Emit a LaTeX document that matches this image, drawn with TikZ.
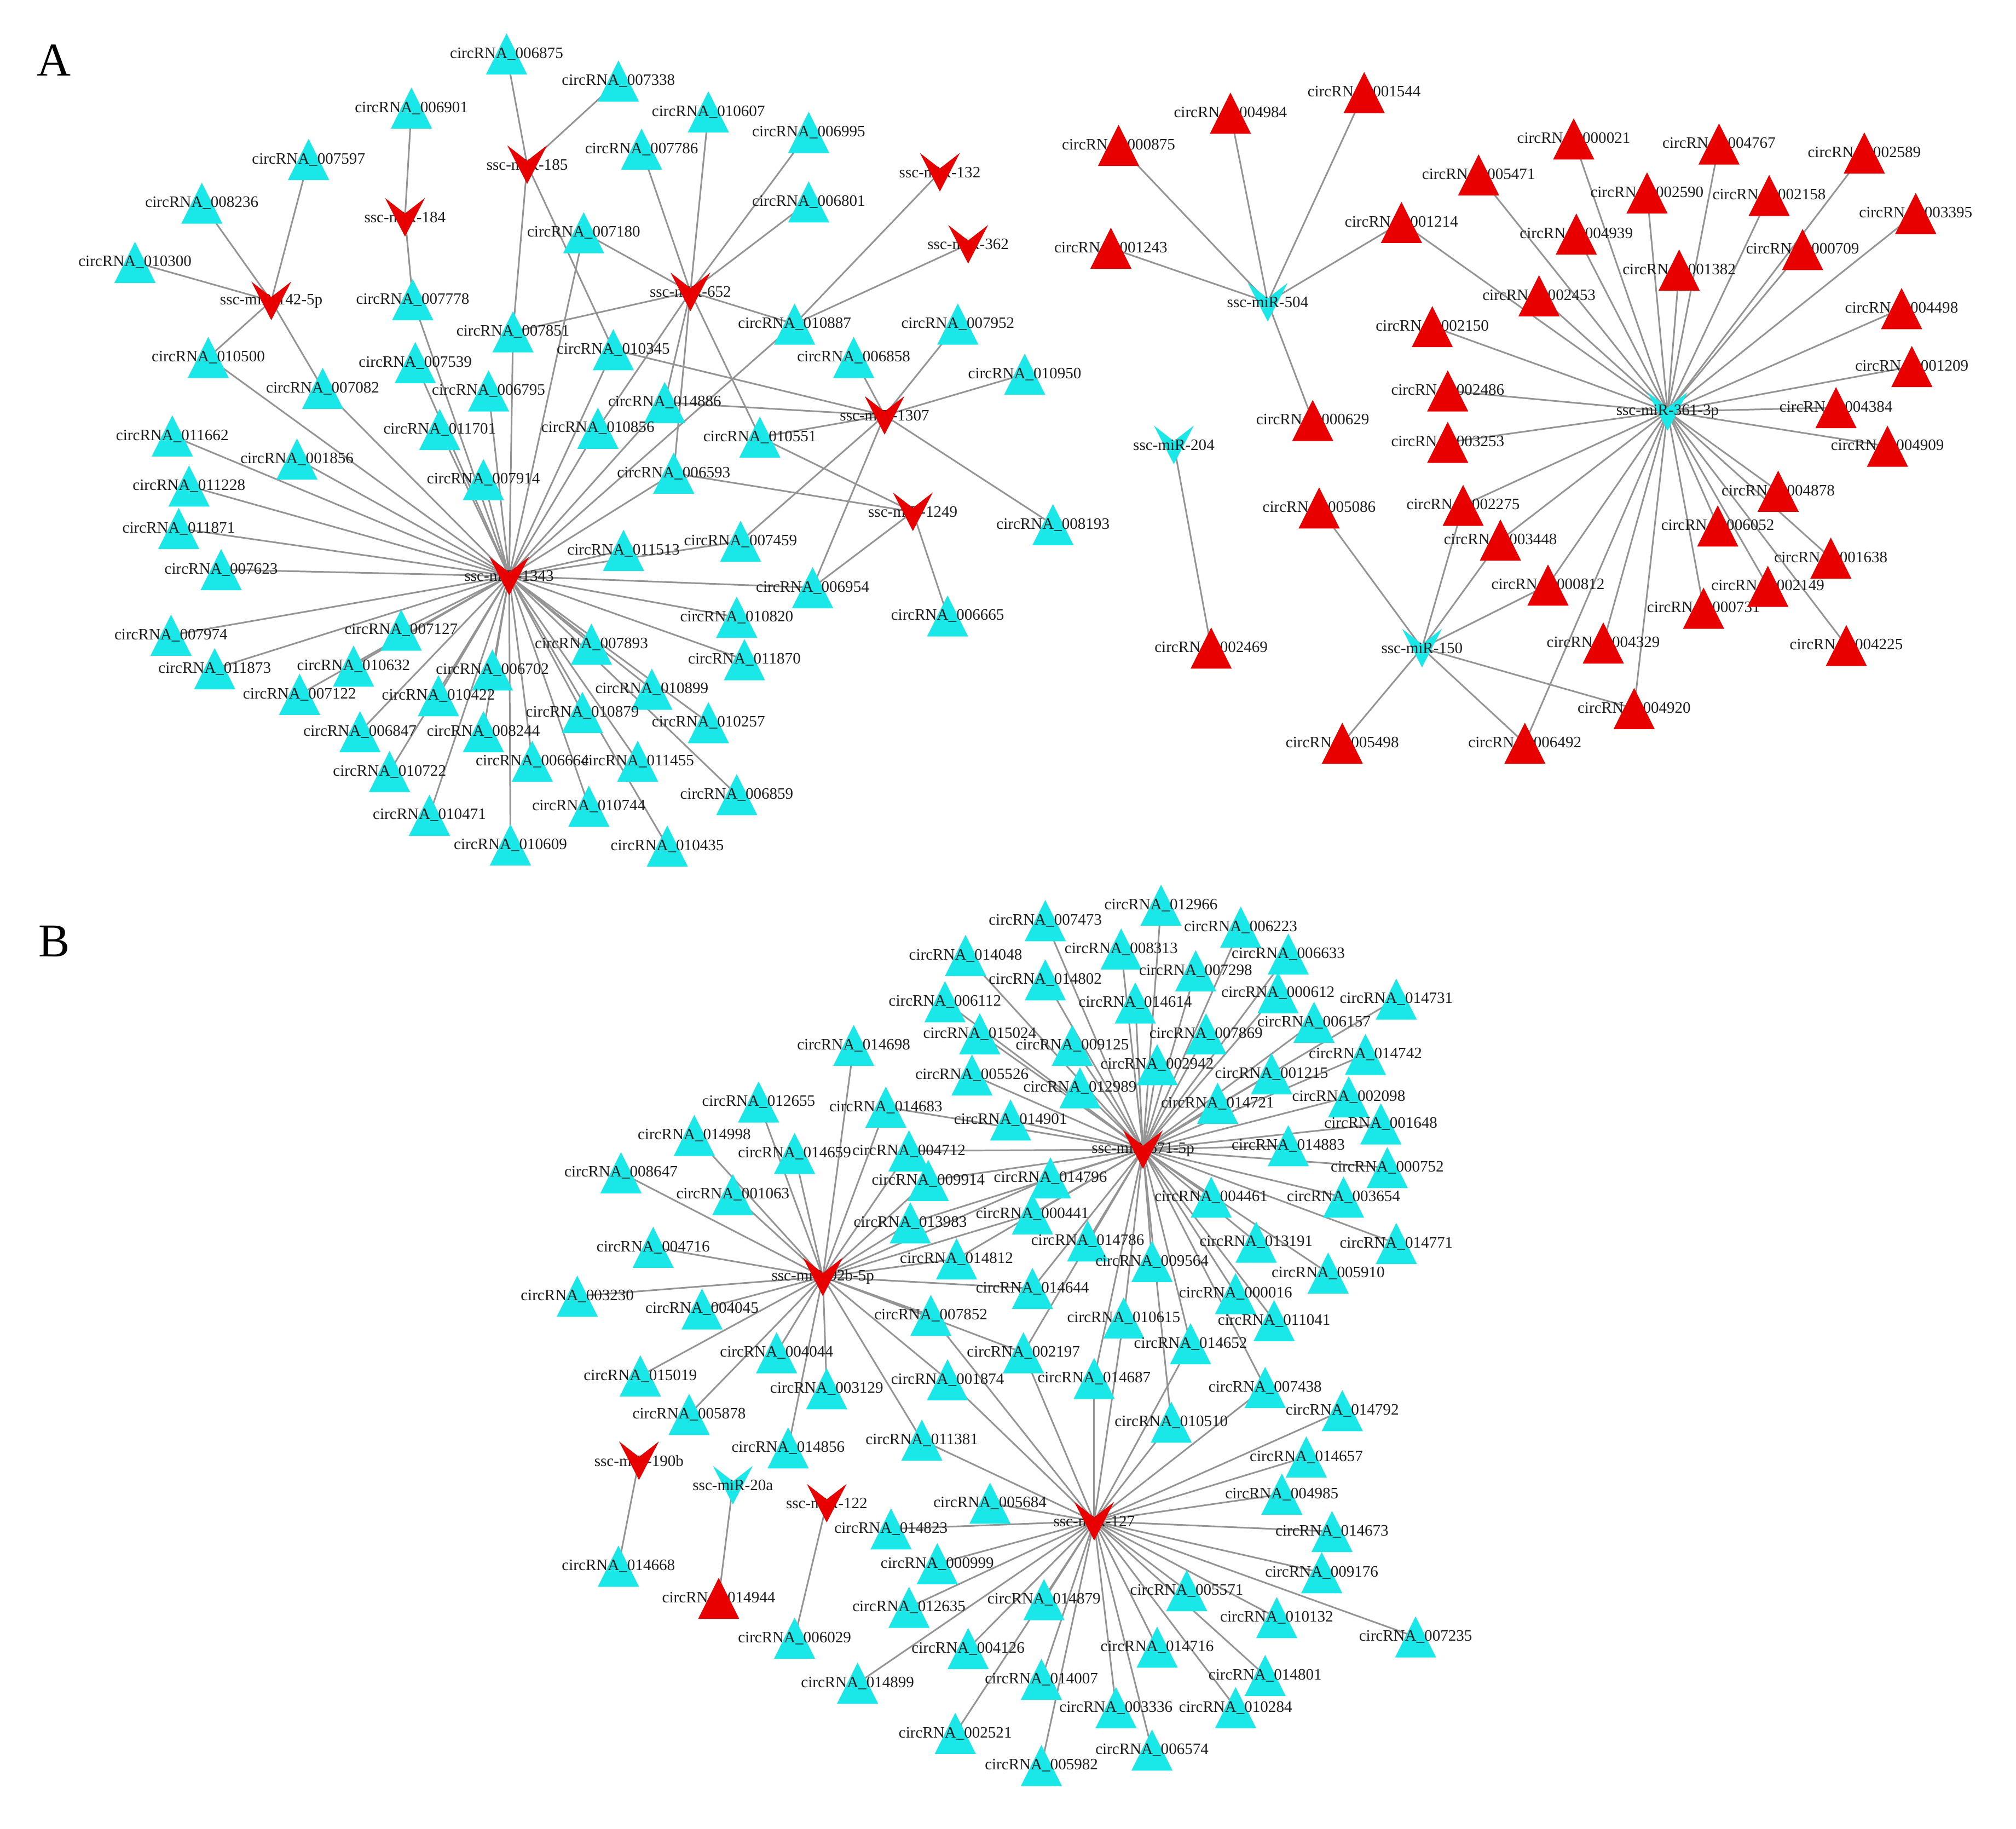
\documentclass[tikz,border=0pt]{standalone}
\usepackage{fontspec}
\setmainfont{Liberation Serif}
\pgfdeclarelayer{bg}\pgfdeclarelayer{edges}\pgfdeclarelayer{labels}\pgfdeclarelayer{top}
\pgfsetlayers{bg,edges,main,labels,top}
\definecolor{cy}{RGB}{26,232,232}
\definecolor{rd}{RGB}{232,0,0}
\definecolor{eg}{RGB}{148,148,148}
\definecolor{tx}{RGB}{30,30,30}
\tikzset{
 lab/.style={inner sep=0pt,text=tx,font=\fontsize{8.8}{9}\selectfont},
 edge/.style={draw=eg,line width=0.9pt},
 panel/.style={inner sep=0pt,text=black,font=\fontsize{26}{26}\selectfont}}
\newcommand\Ct[2]{\coordinate (c#1) at (#2);%
 \fill[cy,shift={(c#1)}] (0,-16)--(16,16)--(-16,16)--cycle;%
 \begin{pgfonlayer}{labels}\node[lab] (lc#1) at (c#1) {circRNA\_#1};\end{pgfonlayer}}
\newcommand\Rt[2]{\coordinate (r#1) at (#2);%
 \begin{pgfonlayer}{top}\fill[rd,shift={(r#1)}] (0,-16)--(16,16)--(-16,16)--cycle;\end{pgfonlayer}%
 \begin{pgfonlayer}{labels}\node[lab] (lr#1) at (r#1) {circRNA\_#1};\end{pgfonlayer}}
\newcommand\Rv[3]{\coordinate (#1) at (#2);%
 \begin{pgfonlayer}{top}\fill[rd,shift={(#1)}] (-15.5,-15)--(0,-3)--(15.5,-15)--(0,15)--cycle;\end{pgfonlayer}%
 \begin{pgfonlayer}{labels}\node[lab] (l#1) at (#1) {#3};\end{pgfonlayer}}
\newcommand\Cv[3]{\coordinate (#1) at (#2);%
 \fill[cy,shift={(#1)}] (-15.5,-15)--(0,-3)--(15.5,-15)--(0,15)--cycle;%
 \begin{pgfonlayer}{labels}\node[lab] (l#1) at (#1) {#3};\end{pgfonlayer}}
\begin{document}
\begin{tikzpicture}[x=0.025cm,y=-0.025cm]
\begin{pgfonlayer}{bg}\fill[white] (0,0) rectangle (1568,1422);\end{pgfonlayer}
\useasboundingbox (0,0) rectangle (1568,1422);
\node[panel] (pA) at (42,47) {A};
\node[panel] (pB) at (42,732) {B};
% ---------- Panel A left
\Ct{006875}{394,42}
\Ct{006901}{320,84}
\Ct{007597}{240,124}
\Ct{008236}{157,158}
\Ct{010300}{105,204}
\Ct{007778}{321,233}
\Ct{010500}{162,278}
\Ct{007082}{251,302}
\Ct{007539}{323,282}
\Ct{006795}{380,304}
\Ct{007851}{399,258}
\Ct{011701}{342,334}
\Ct{011662}{134,339}
\Ct{007338}{481,63}
\Ct{010607}{551,87}
\Ct{006995}{629,103}
\Ct{007786}{499,116}
\Ct{006801}{629,157}
\Ct{007180}{454,181}
\Ct{010887}{618,252}
\Ct{007952}{745,252}
\Ct{010345}{477,272}
\Ct{006858}{664,278}
\Ct{010950}{797,291}
\Ct{014886}{517,313}
\Ct{010856}{465,333}
\Ct{010551}{591,340}
\Ct{001856}{231,357}
\Ct{011228}{147,378}
\Ct{007914}{376,373}
\Ct{011871}{139,411}
\Ct{007623}{172,443}
\Ct{007974}{133,494}
\Ct{007127}{312,490}
\Ct{011873}{167,520}
\Ct{010632}{275,518}
\Ct{006702}{383,521}
\Ct{007122}{233,540}
\Ct{010422}{341,541}
\Ct{006847}{280,569}
\Ct{008244}{376,569}
\Ct{006664}{414,592}
\Ct{010722}{303,600}
\Ct{010471}{334,634}
\Ct{010609}{397,657}
\Ct{006593}{524,368}
\Ct{008193}{819,408}
\Ct{011513}{485,428}
\Ct{007459}{576,421}
\Ct{006954}{632,457}
\Ct{010820}{573,480}
\Ct{006665}{737,479}
\Ct{007893}{460,501}
\Ct{011870}{579,513}
\Ct{010899}{507,536}
\Ct{010879}{453,554}
\Ct{010257}{551,562}
\Ct{011455}{496,592}
\Ct{006859}{573,618}
\Ct{010744}{458,627}
\Ct{010435}{519,658}
\Rv{m142}{211,234}{ssc-miR-142-5p}
\Rv{m184}{315,169}{ssc-miR-184}
\Rv{m185}{410,128}{ssc-miR-185}
\Rv{m652}{537,227}{ssc-miR-652}
\Rv{m132}{731,134}{ssc-miR-132}
\Rv{m362}{753,190}{ssc-miR-362}
\Rv{m1307}{688,323}{ssc-miR-1307}
\Rv{m1249}{710,398}{ssc-miR-1249}
\Rv{m1343}{396,448}{ssc-miR-1343}
% ---------- Panel A right
\Rt{001544}{1061,72}
\Rt{004984}{957,88}
\Rt{000875}{870,113}
\Rt{005471}{1150,136}
\Rt{001214}{1090,173}
\Rt{001243}{864,193}
\Rt{002150}{1114,254}
\Rt{002486}{1126,304}
\Rt{000629}{1021,327}
\Rt{003253}{1126,344}
\Rt{000021}{1224,108}
\Rt{004767}{1337,112}
\Rt{002589}{1450,119}
\Rt{002590}{1281,150}
\Rt{002158}{1376,152}
\Rt{003395}{1490,166}
\Rt{004939}{1226,182}
\Rt{000709}{1402,194}
\Rt{001382}{1306,210}
\Rt{002453}{1197,230}
\Rt{004498}{1479,240}
\Rt{001209}{1487,285}
\Rt{004384}{1428,317}
\Rt{004909}{1468,347}
\Rt{005086}{1026,395}
\Rt{002275}{1138,393}
\Rt{003448}{1167,420}
\Rt{002469}{942,504}
\Rt{005498}{1044,578}
\Rt{004878}{1383,382}
\Rt{006052}{1336,409}
\Rt{001638}{1424,434}
\Rt{000812}{1204,455}
\Rt{002149}{1375,456}
\Rt{000731}{1325,473}
\Rt{004329}{1247,500}
\Rt{004225}{1436,502}
\Rt{004920}{1271,551}
\Rt{006492}{1186,578}
\Cv{m504}{986,235}{ssc-miR-504}
\Cv{m204}{913,346}{ssc-miR-204}
\Cv{m361}{1297,320}{ssc-miR-361-3p}
\Cv{m150}{1106,504}{ssc-miR-150}
% ---------- Panel B
\Ct{014048}{751,743}
\Ct{006112}{735,779}
\Ct{015024}{762,804}
\Ct{014698}{664,813}
\Ct{005526}{756,836}
\Ct{012655}{590,857}
\Ct{014683}{689,861}
\Ct{014998}{540,883}
\Ct{014659}{618,897}
\Ct{004712}{707,895}
\Ct{008647}{483,912}
\Ct{009914}{722,918}
\Ct{001063}{570,929}
\Ct{013983}{708,951}
\Ct{004716}{508,970}
\Ct{014812}{744,979}
\Ct{003230}{449,1008}
\Ct{004045}{546,1018}
\Ct{007852}{724,1023}
\Ct{012966}{903,704}
\Ct{007473}{813,716}
\Ct{006223}{965,721}
\Ct{008313}{872,738}
\Ct{006633}{1002,742}
\Ct{007298}{930,755}
\Ct{014802}{813,762}
\Ct{000612}{994,772}
\Ct{014731}{1086,777}
\Ct{014614}{883,780}
\Ct{006157}{1022,795}
\Ct{007869}{938,804}
\Ct{009125}{834,813}
\Ct{014742}{1062,820}
\Ct{002942}{900,828}
\Ct{001215}{989,835}
\Ct{012989}{840,846}
\Ct{002098}{1049,853}
\Ct{014721}{947,858}
\Ct{014901}{786,871}
\Ct{001648}{1074,874}
\Ct{014883}{1002,891}
\Ct{000752}{1079,908}
\Ct{014796}{817,916}
\Ct{004461}{942,931}
\Ct{003654}{1045,931}
\Ct{000441}{803,944}
\Ct{014786}{846,965}
\Ct{013191}{977,966}
\Ct{014771}{1086,967}
\Ct{009564}{896,981}
\Ct{005910}{1033,990}
\Ct{014644}{803,1002}
\Ct{000016}{961,1006}
\Ct{010615}{874,1025}
\Ct{011041}{991,1027}
\Ct{014652}{926,1045}
\Ct{004044}{604,1052}
\Ct{015019}{498,1070}
\Ct{003129}{643,1080}
\Ct{001874}{737,1073}
\Ct{005878}{536,1100}
\Ct{011381}{717,1120}
\Ct{014856}{613,1126}
\Ct{005684}{770,1169}
\Ct{014823}{693,1189}
\Ct{014668}{481,1218}
\Ct{000999}{729,1216}
\Ct{012635}{707,1250}
\Ct{006029}{618,1274}
\Ct{004126}{753,1282}
\Ct{014899}{667,1309}
\Ct{002521}{743,1348}
\Ct{002197}{796,1052}
\Ct{014687}{851,1072}
\Ct{007438}{984,1079}
\Ct{014792}{1044,1097}
\Ct{010510}{911,1106}
\Ct{014657}{1016,1133}
\Ct{004985}{997,1162}
\Ct{014673}{1036,1191}
\Ct{009176}{1028,1223}
\Ct{005571}{923,1237}
\Ct{014879}{812,1244}
\Ct{010132}{993,1258}
\Ct{007235}{1101,1273}
\Ct{014716}{900,1281}
\Ct{014801}{984,1303}
\Ct{014007}{810,1306}
\Ct{003336}{868,1328}
\Ct{010284}{961,1328}
\Ct{006574}{896,1361}
\Ct{005982}{810,1373}
\Rt{014944}{559,1243}
\Rv{m92}{640,993}{ssc-miR-92b-5p}
\Rv{m671}{889,894}{ssc-miR-671-5p}
\Rv{m127}{851,1183}{ssc-miR-127}
\Rv{m190}{497,1136}{ssc-miR-190b}
\Cv{m20a}{570,1155}{ssc-miR-20a}
\Rv{m122}{643,1169}{ssc-miR-122}
% ---------- edges
\begin{pgfonlayer}{edges}
\foreach \t in {c008236,c007597,c010300,c010500,c007082} \draw[edge] (m142) -- (\t);
\foreach \t in {c006901,c007778} \draw[edge] (m184) -- (\t);
\foreach \t in {c006875,c007338,c007851,c010345} \draw[edge] (m185) -- (\t);
\foreach \t in {c007786,c010607,c006995,c006801,c007180,c007851,c010887,c006593,c014886,c010856,c010551} \draw[edge] (m652) -- (\t);
\foreach \t in {c010345,c014886,c010551,c006858,c007952,c010950,c007459,c006954,c008193} \draw[edge] (m1307) -- (\t);
\foreach \t in {c006593,c010551,c006954,c006665} \draw[edge] (m1249) -- (\t);
\draw[edge] (m132) -- (c010887);
\draw[edge] (m362) -- (c010887);
\foreach \t in {c010500,c007082,c007778,c007539,c006795,c011701,c007851,c007180,c010345,c010856,c014886,c006593,c011513,c007459,c006954,c010820,c011870,c007893,c010899,c010257,c006859,c011455,c010435,c010744,c010879,c010609,c006664,c010471,c008244,c010722,c006702,c010422,c006847,c007122,c010632,c007127,c011873,c007974,c007623,c011871,c011228,c001856,c011662,c007914,c010887} \draw[edge] (m1343) -- (\t);
\foreach \t in {r000875,r004984,r001544,r001243,r001214,r000629} \draw[edge] (m504) -- (\t);
\draw[edge] (m204) -- (r002469);
\foreach \t in {r005086,r002275,r003448,r000812,r004920,r005498,r006492} \draw[edge] (m150) -- (\t);
\foreach \t in {r005471,r000021,r004767,r002589,r002590,r002158,r003395,r004939,r000709,r001382,r002453,r004498,r001209,r004384,r004909,r001214,r002150,r002486,r003253,r002275,r003448,r000812,r004329,r006492,r004920,r000731,r006052,r002149,r004878,r001638,r004225} \draw[edge] (m361) -- (\t);
\draw[edge] (m190) -- (c014668);
\draw[edge] (m20a) -- (r014944);
\draw[edge] (m122) -- (c006029);
\foreach \t in {c014698,c012655,c014998,c014659,c014683,c008647,c001063,c009914,c013983,c004716,c014812,c003230,c004045,c007852,c004044,c015019,c005878,c003129,c014856,c001874,c011381,c004712,c014644,c000441,c014796,c002197} \draw[edge] (m92) -- (\t);
\foreach \t in {c012966,c007473,c006223,c014048,c008313,c006633,c007298,c014802,c000612,c014731,c014614,c006157,c007869,c006112,c015024,c009125,c014742,c002942,c001215,c005526,c012989,c002098,c014721,c014901,c001648,c014883,c000752,c014796,c004461,c003654,c000441,c014786,c013191,c014771,c009564,c005910,c014644,c000016,c010615,c011041,c014652,c004712,c014683,c009914,c013983,c014812,c002197,c014687,c010510,c007438} \draw[edge] (m671) -- (\t);
\foreach \t in {c005684,c014823,c000999,c012635,c004126,c014899,c002521,c005982,c014879,c014007,c003336,c006574,c014716,c010284,c014801,c005571,c010132,c007235,c009176,c014673,c004985,c014657,c014792,c007438,c010510,c014652,c014687,c002197,c001874,c011381,c007852,c010615} \draw[edge] (m127) -- (\t);
\end{pgfonlayer}
\end{tikzpicture}
\end{document}
